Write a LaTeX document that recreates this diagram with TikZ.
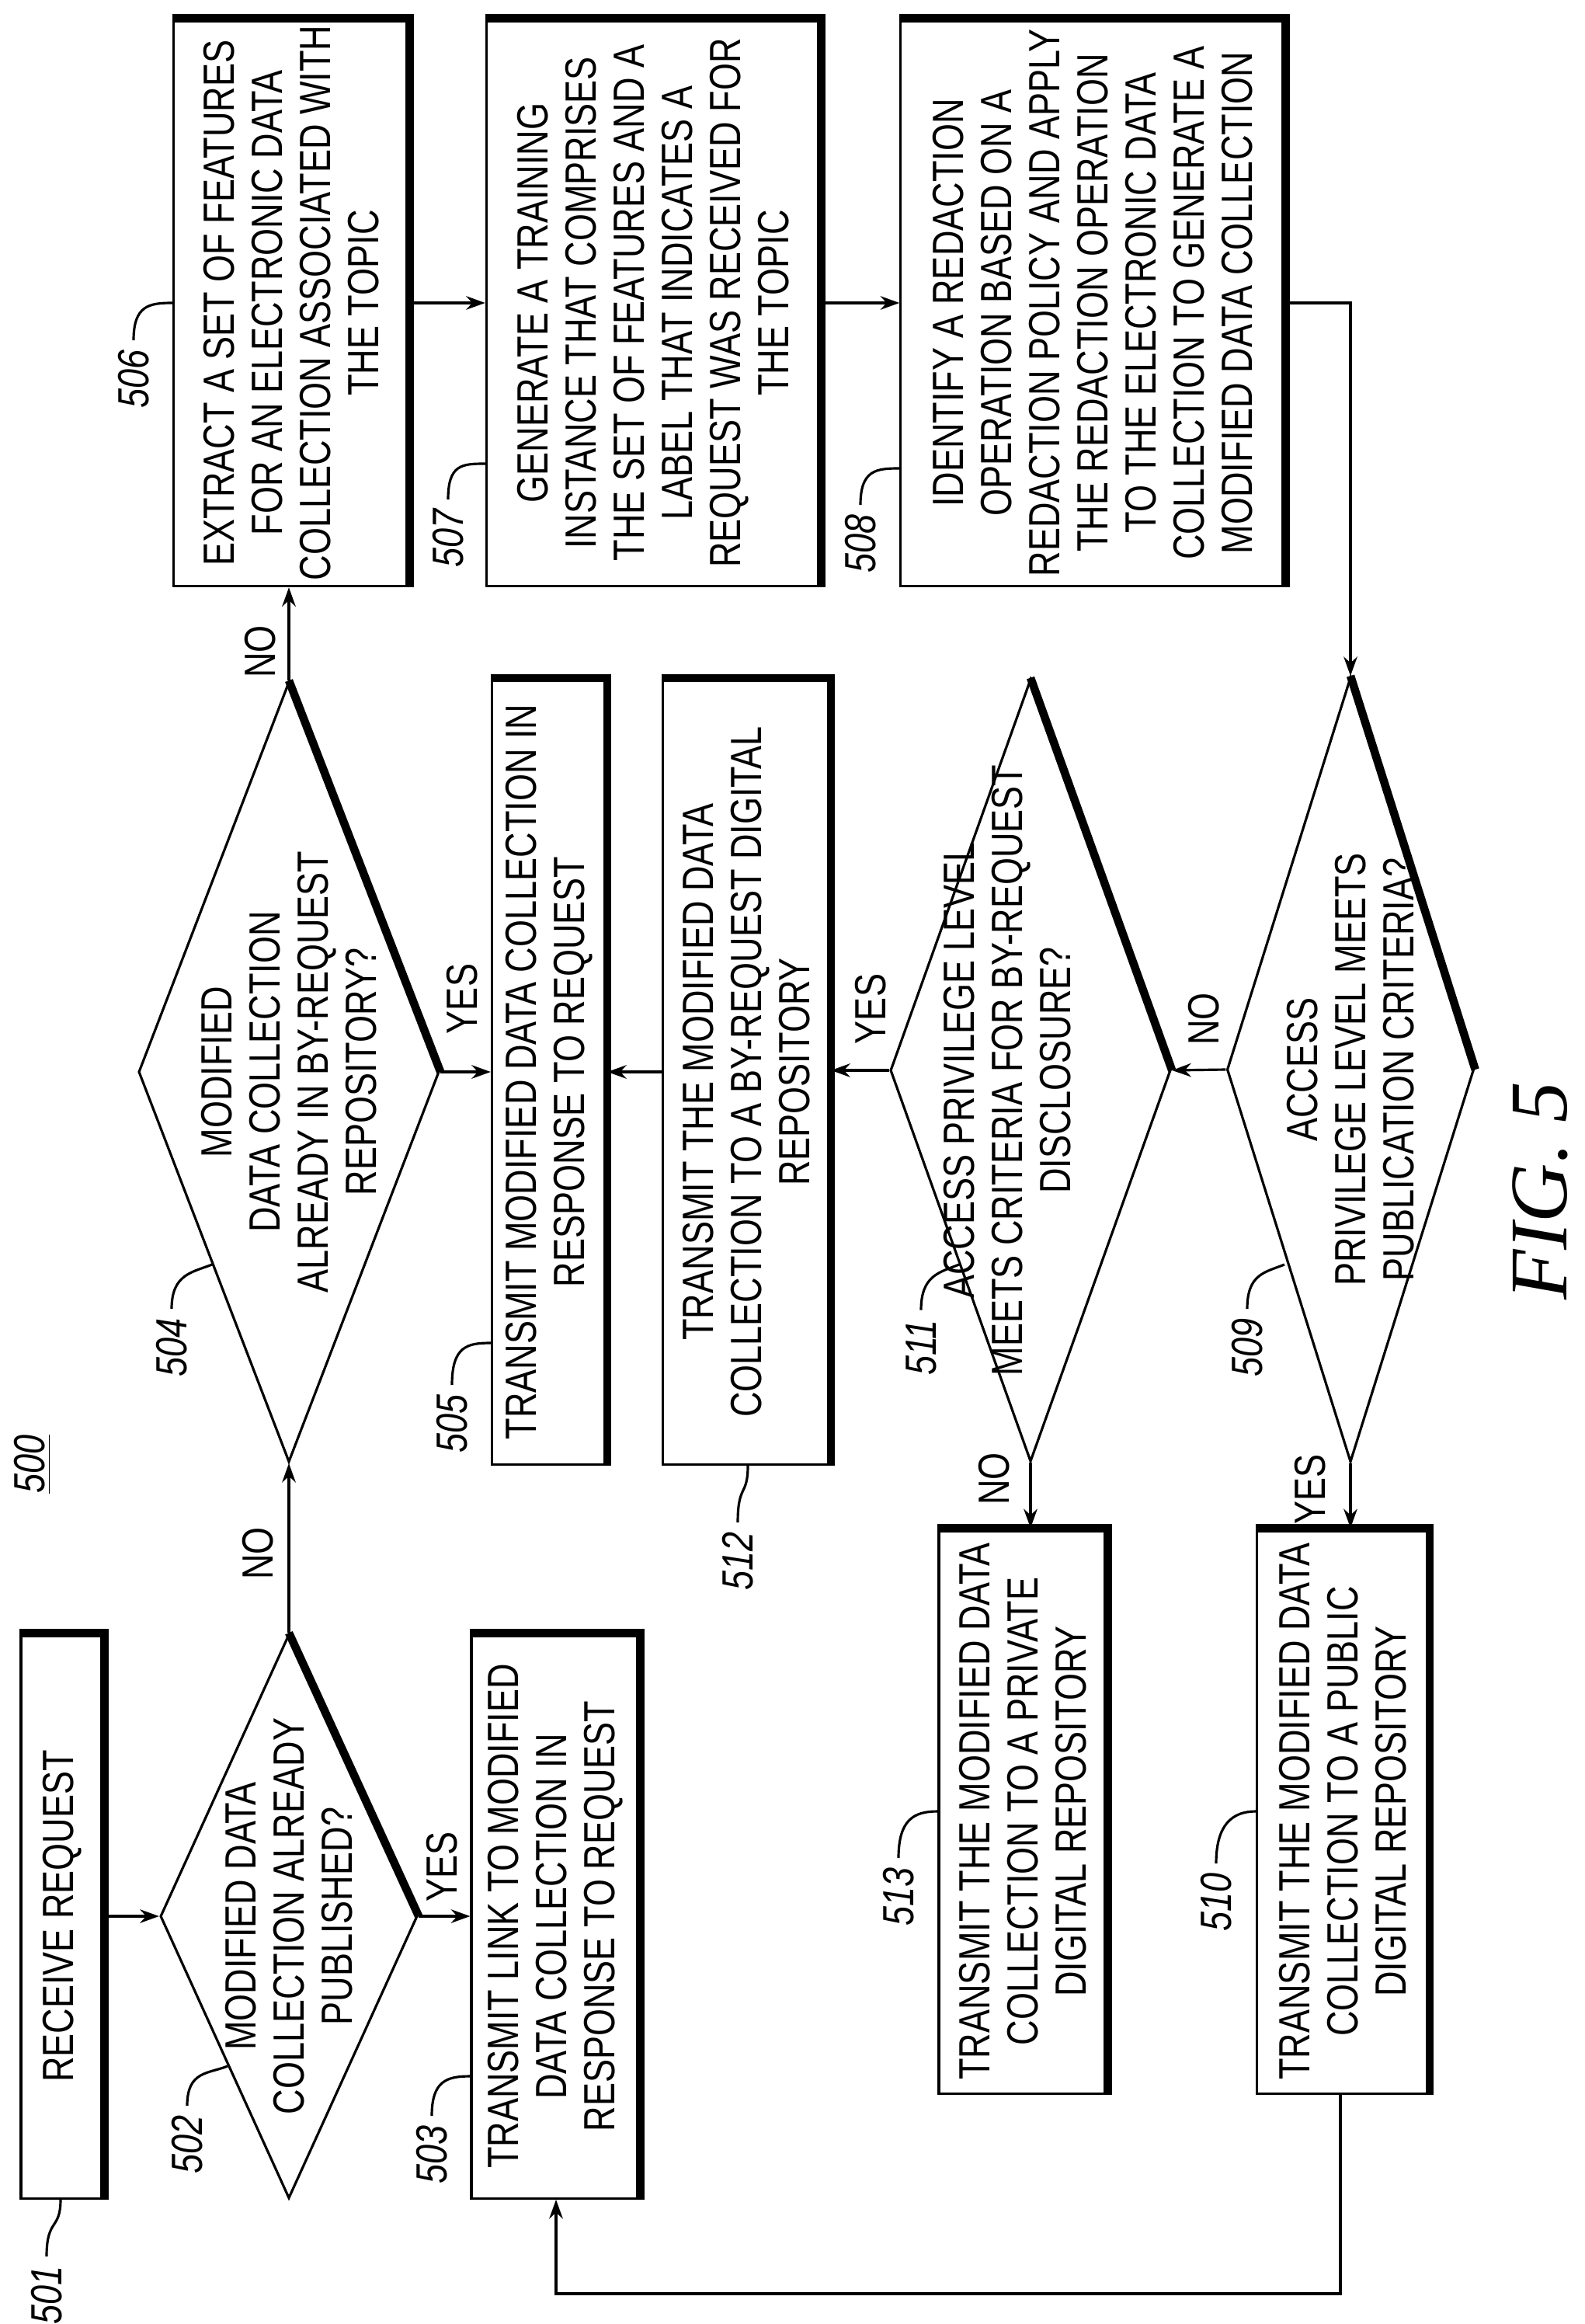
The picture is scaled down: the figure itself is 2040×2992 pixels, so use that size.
\documentclass[tikz,border=0pt]{standalone}
\usepackage{fontspec}
\setmainfont{Liberation Sans}[FakeStretch=0.8]
\newfontfamily\figfont{Liberation Serif}
\usetikzlibrary{positioning,arrows,arrows.meta,shapes.geometric}
\tikzset{
  proc/.style={draw=black, line width=0.9pt, rotate=90, inner sep=0pt,
    align=center, font=\fontsize{16}{17.6}\selectfont},
  decide/.style={draw=black, line width=0.9pt, diamond, rotate=90, inner sep=0pt},
  inside/.style={rotate=90, align=center, font=\fontsize{16}{17.6}\selectfont},
  rim/.style={line width=3pt, line join=miter},
  flow/.style={line width=0.9pt, -{Stealth[length=7pt,width=5pt]}},
  ref/.style={rotate=90, font=\fontsize{16}{17.6}\selectfont\itshape},
  lead/.style={line width=0.9pt},
  ans/.style={rotate=90, font=\fontsize{16}{17.6}\selectfont}
}
\begin{document}
\begin{tikzpicture}[x=0.01cm, y=-0.01cm]
    \useasboundingbox (0,0) rectangle (2040,2992);
    % process boxes
    \node[proc, minimum width=7.26cm, minimum height=1.06cm] (b501) at (80,2467) {RECEIVE REQUEST};
    \node[proc, minimum width=7.26cm, minimum height=2.16cm] (b503) at (715,2467)
      {TRANSMIT LINK TO MODIFIED\\DATA COLLECTION IN\\RESPONSE TO REQUEST};
    \node[proc, minimum width=10.1cm, minimum height=1.47cm] (b505) at (707,1380)
      {TRANSMIT MODIFIED DATA COLLECTION IN\\RESPONSE TO REQUEST};
    \node[proc, minimum width=10.1cm, minimum height=2.15cm] (b512) at (961,1380)
      {TRANSMIT THE MODIFIED DATA\\COLLECTION TO A BY-REQUEST DIGITAL\\REPOSITORY};
    \node[proc, minimum width=7.29cm, minimum height=3.02cm] (b506) at (375,390)
      {EXTRACT A SET OF FEATURES\\FOR AN ELECTRONIC DATA\\COLLECTION ASSOCIATED WITH\\THE TOPIC};
    \node[proc, minimum width=7.29cm, minimum height=4.29cm] (b507) at (841,390)
      {GENERATE A TRAINING\\INSTANCE THAT COMPRISES\\THE SET OF FEATURES AND A\\LABEL THAT INDICATES A\\REQUEST WAS RECEIVED FOR\\THE TOPIC};
    \node[proc, minimum width=7.29cm, minimum height=4.94cm] (b508) at (1407,390)
      {IDENTIFY A REDACTION\\OPERATION BASED ON A\\REDACTION POLICY AND APPLY\\THE REDACTION OPERATION\\TO THE ELECTRONIC DATA\\COLLECTION TO GENERATE A\\MODIFIED DATA COLLECTION};
    \node[proc, minimum width=7.26cm, minimum height=2.16cm] (b513) at (1317,2332)
      {TRANSMIT THE MODIFIED DATA\\COLLECTION TO A PRIVATE\\DIGITAL REPOSITORY};
    \node[proc, minimum width=7.26cm, minimum height=2.21cm] (b510) at (1729,2332)
      {TRANSMIT THE MODIFIED DATA\\COLLECTION TO A PUBLIC\\DIGITAL REPOSITORY};
    \foreach \b in {b501,b503,b505,b512,b506,b507,b508,b513,b510}
      \draw[rim, xshift=1.5pt, yshift=1.5pt] (\b.north east) -- (\b.south east) -- (\b.south west);
    % decisions
    \node[decide, minimum width=7.26cm, minimum height=3.31cm] (d502) at (372,2467) {};
    \node[decide, minimum width=10.04cm, minimum height=3.87cm] (d504) at (372,1380) {};
    \node[decide, minimum width=10.07cm, minimum height=3.61cm] (d511) at (1327,1378) {};
    \node[decide, minimum width=10.1cm, minimum height=3.18cm] (d509) at (1739,1377) {};
    \foreach \d in {d502,d504,d511,d509}
      \draw[rim, xshift=1.5pt, yshift=1.5pt] (\d.east) -- (\d.south);
    \node[inside] (t502) at (d502) {MODIFIED DATA\\COLLECTION ALREADY\\PUBLISHED?};
    \node[inside] (t504) at (d504) {MODIFIED\\DATA COLLECTION\\ALREADY IN BY-REQUEST\\REPOSITORY?};
    \node[inside] (t511) at ([xshift=-0.3cm]d511) {ACCESS PRIVILEGE LEVEL\\MEETS CRITERIA FOR BY-REQUEST\\DISCLOSURE?};
    \node[inside] (t509) at (d509) {ACCESS\\PRIVILEGE LEVEL MEETS\\PUBLICATION CRITERIA?};
    % flow
    \draw[flow] (b501.south) -- (d502.north);
    \draw[flow] (d502.south) -- (b503.north |- d502.south);
    \draw[flow] (d502.east) -- (d504.west);
    \draw[flow] (d504.south) -- (b505.north |- d504.south);
    \draw[flow] (d504.east) -- (d504.east |- b506.west);
    \draw[flow] (b506.south) -- (b507.north);
    \draw[flow] (b507.south) -- (b508.north);
    \draw[flow] (b508.south) -| (d509.east);
    \draw[flow] (d509.north) -- (d511.south);
    \draw[flow] (d511.north) -- (b512.south |- d511.north);
    \draw[flow] (b512.north |- b505.south) -- (b505.south);
    \draw[flow] (d511.west) -- (d511.west |- b513.east);
    \draw[flow] (d509.west) -- (d509.west |- b510.east);
    \coordinate (r510) at (1726,2953);
    \draw[flow] (b510.west -| r510) -- (r510) -- (r510 -| 716,0) -- (716,0 |- b503.west);
    % answers
    \node[ans] (n504) at (335,839) {NO};
    \node[ans] (n502) at (332,2000) {NO};
    \node[ans] (y502) at (569,2403) {YES};
    \node[ans] (y504) at (595,1286) {YES};
    \node[ans] (y511) at (1121,1299) {YES};
    \node[ans] (n509) at (1550,1312) {NO};
    \node[ans] (n511) at (1280,1904) {NO};
    \node[ans] (y509) at (1687,1917) {YES};
    % reference numerals
    \node[ref] (l500) at (42,1885) {\underline{500}};
    \node[ref] (l501) at (60,2955) {501};
    \draw[lead] (l501.east) .. controls +(0,-50) and +(0,40) .. (78,0 |- b501.west);
    \node[ref] (l502) at (241,2761) {502};
    \draw[lead] (l502.east) .. controls +(0,-45) and +(-25,10) .. (293,2660);
    \node[ref] (l503) at (556,2774) {503};
    \draw[lead] (l503.east) .. controls +(0,-45) and +(-30,0) .. (b503.north |- 0,2673);
    \node[ref] (l504) at (221,1735) {504};
    \draw[lead] (l504.east) .. controls +(0,-45) and +(-25,10) .. (273,1628);
    \node[ref] (l505) at (582,1833) {505};
    \draw[lead] (l505.east) .. controls +(0,-50) and +(-30,0) .. (b505.north |- 0,1729);
    \node[ref] (l506) at (172,488) {506};
    \draw[lead] (l506.east) .. controls +(0,-45) and +(-30,0) .. (b506.north |- 0,390);
    \node[ref] (l507) at (577,693) {507};
    \draw[lead] (l507.east) .. controls +(0,-45) and +(-30,0) .. (b507.north |- 0,597);
    \node[ref] (l508) at (1108,700) {508};
    \draw[lead] (l508.east) .. controls +(0,-45) and +(-30,0) .. (b508.north |- 0,603);
    \node[ref] (l509) at (1606,1735) {509};
    \draw[lead] (l509.east) .. controls +(0,-45) and +(-25,10) .. (1654,1628);
    \node[ref] (l510) at (1566,2449) {510};
    \draw[lead] (l510.east) .. controls +(0,-50) and +(-30,0) .. (b510.north |- 0,2332);
    \node[ref] (l511) at (1186,1735) {511};
    \draw[lead] (l511.east) .. controls +(0,-45) and +(-25,10) .. (1235,1628);
    \node[ref] (l512) at (950,2010) {512};
    \draw[lead] (l512.east) .. controls +(0,-50) and +(0,40) .. (963,0 |- b512.west);
    \node[ref] (l513) at (1157,2442) {513};
    \draw[lead] (l513.east) .. controls +(0,-50) and +(-30,0) .. (b513.north |- 0,2332);
    % caption
    \node[rotate=90, font=\figfont\fontsize{30}{32}\selectfont\itshape] (fig) at (1983,1533) {FIG. 5};
\end{tikzpicture}
\end{document}
